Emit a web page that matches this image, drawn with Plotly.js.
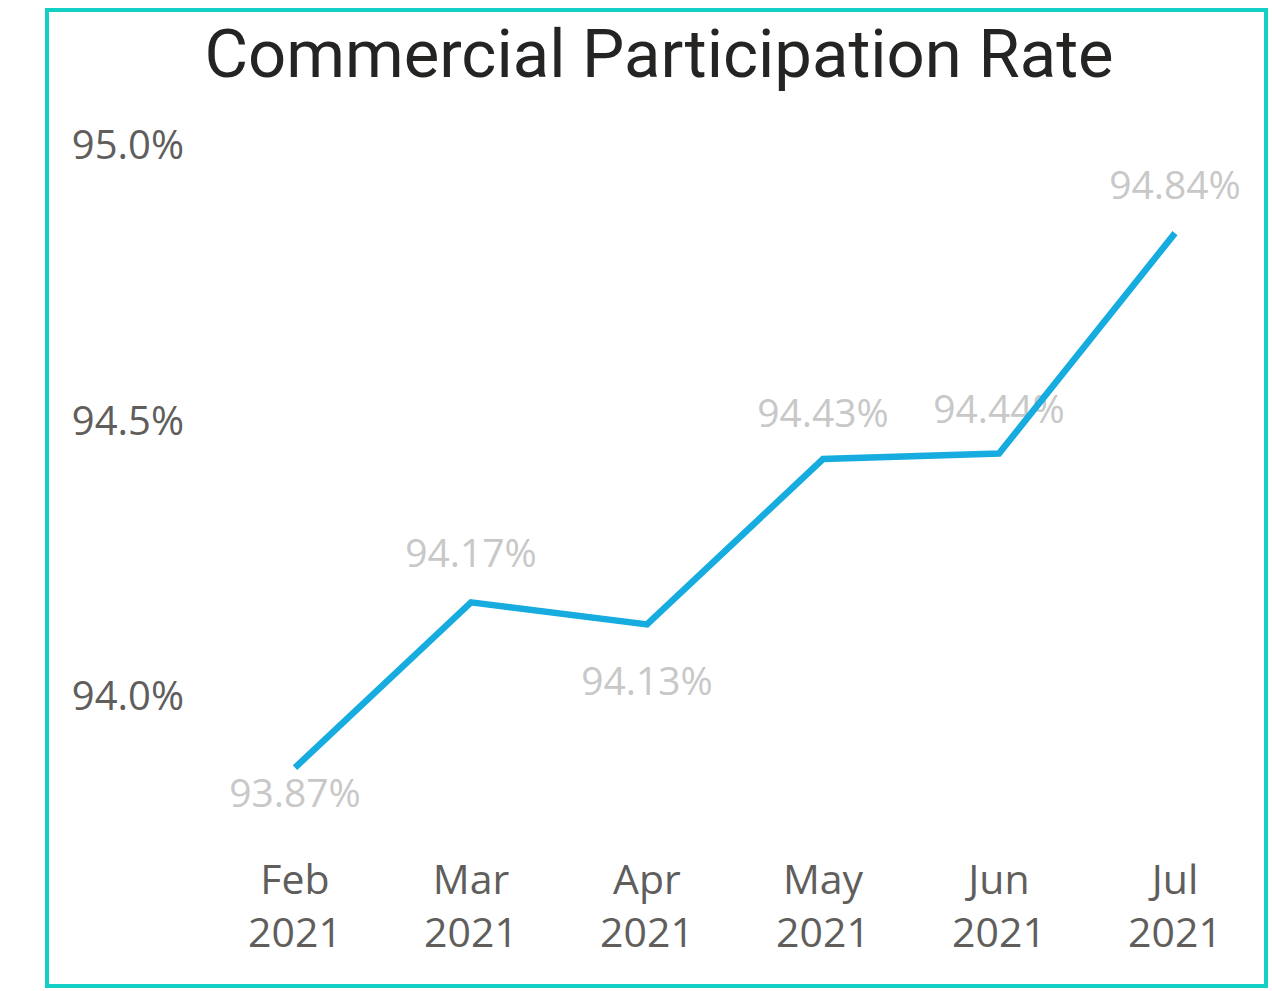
<!DOCTYPE html>
<html>
<head>
<meta charset="utf-8">
<script src="https://cdn.plot.ly/plotly-3.0.1.min.js"></script>
<style>
  html, body { margin: 0; padding: 0; background: #ffffff; }
  #wrap { position: relative; width: 1272px; height: 991px; }
  #chart { position: absolute; left: 0; top: 0; width: 1272px; height: 991px; }
  #frame { position: absolute; left: 45px; top: 8px; width: 1215px; height: 972px;
           border: 4px solid #13CFC5; pointer-events: none; }
</style>
</head>
<body>
<div id="wrap">
  <div id="chart"></div>
  <div id="frame"></div>
</div>
<script>
// ---- data ----
const months = ["Feb", "Mar", "Apr", "May", "Jun", "Jul"];
const years = ["2021", "2021", "2021", "2021", "2021", "2021"];
const rates = [93.87, 94.17, 94.13, 94.43, 94.44, 94.84];
const yTickValues = [94.0, 94.5, 95.0];

// ---- label placement (style, not data) ----
const labelSide = ["bottom center", "top center", "bottom center", "top center", "top center", "top center"];
const labelGap = [15, 39, 65, 34, 31, 37];

const cats = months.map((m, i) => m + "<br>" + years[i]);
const labels = rates.map(v => v.toFixed(2) + "%");
const yTickText = yTickValues.map(v => v.toFixed(1) + "%");

const textTrace = {
  type: "scatter",
  mode: "markers+text",
  x: cats,
  y: rates,
  text: labels,
  textposition: labelSide,
  textfont: { family: "Open Sans, Noto Sans, sans-serif", size: 39, color: "#C8C8C8" },
  marker: { size: labelGap, color: "rgba(0,0,0,0)" },
  hoverinfo: "skip",
  showlegend: false,
  cliponaxis: false
};

const lineTrace = {
  type: "scatter",
  mode: "lines",
  x: cats,
  y: rates,
  line: { color: "#16ACE0", width: 6.5 },
  showlegend: false,
  cliponaxis: false
};

const layout = {
  width: 1272,
  height: 991,
  paper_bgcolor: "#ffffff",
  plot_bgcolor: "#ffffff",
  margin: { l: 207, r: 9, t: 110, b: 151 },
  title: {
    text: "Commercial Participation Rate",
    font: { family: "Roboto, DejaVu Sans, sans-serif", size: 67, color: "#252423" },
    x: 659 / 1272,
    xanchor: "center",
    xref: "container",
    y: 1 - 54 / 991,
    yanchor: "middle",
    yref: "container"
  },
  xaxis: {
    type: "category",
    range: [-0.5, 5.5],
    showgrid: false,
    zeroline: false,
    showline: false,
    ticks: "",
    tickfont: { family: "Open Sans, Noto Sans, sans-serif", size: 41, color: "#605E5C" },
    ticklabelstandoff: 12
  },
  yaxis: {
    range: [93.7387, 95.0635],
    tickvals: yTickValues,
    ticktext: yTickText,
    showgrid: false,
    zeroline: false,
    showline: false,
    ticks: "",
    tickfont: { family: "Open Sans, Noto Sans, sans-serif", size: 40, color: "#605E5C" },
    ticklabelstandoff: 22
  },
  showlegend: false
};

Plotly.newPlot("chart", [textTrace, lineTrace], layout, { displayModeBar: false, staticPlot: true });
</script>
</body>
</html>
